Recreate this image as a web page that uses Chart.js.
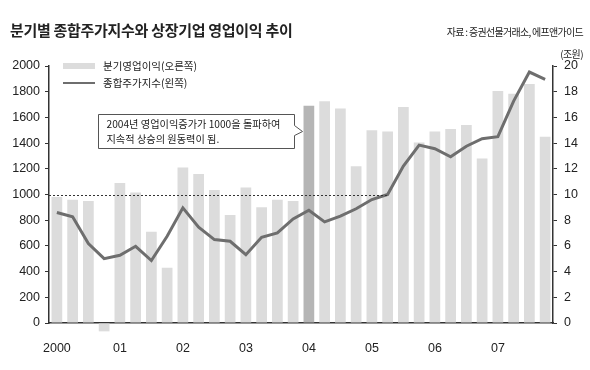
<!DOCTYPE html>
<html>
<head>
<meta charset="utf-8">
<script src="https://cdn.jsdelivr.net/npm/chart.js@4.4.1/dist/chart.umd.min.js"></script>
<style>
  html, body { margin: 0; padding: 0; background: #fff; }
  #wrap { position: relative; width: 590px; height: 370px; font-family: "Noto Sans CJK KR", "Noto Sans", sans-serif; color: #222; }
  #title { position: absolute; left: 10px; top: 19px; font-size: 15px; font-weight: bold; letter-spacing: -0.3px; white-space: nowrap; }
  #source { position: absolute; right: 7px; top: 24px; font-size: 10px; letter-spacing: -0.7px; white-space: nowrap; }
  #unit { position: absolute; right: 7px; top: 46px; font-size: 10px; letter-spacing: -0.6px; }
  canvas { position: absolute; left: 0; top: 0; }
</style>
</head>
<body>
<div id="wrap">
  <canvas id="mainChart" width="590" height="370"></canvas>
  <div id="title">분기별 종합주가지수와 상장기업 영업이익 추이</div>
  <div id="source">자료 : 증권선물거래소, 에프앤가이드</div>
  <div id="unit">(조원)</div>
</div>
<script>
var years = ['2000', '01', '02', '03', '04', '05', '06', '07'];
// 분기영업이익 (조원, 오른쪽 축)
var profit = [9.8, 9.6, 9.5, -0.65, 10.9, 10.15, 7.1, 4.3,
              12.1, 11.6, 10.35, 8.4, 10.55, 9.0, 9.6, 9.5,
              16.9, 17.25, 16.7, 12.2, 15.0, 14.9, 16.8, 14.05,
              14.9, 15.1, 15.4, 12.8, 18.05, 17.85, 18.6, 14.5];
// 종합주가지수 (왼쪽 축)
var kospi = [860, 826, 618, 501, 527, 597, 486, 675,
             896, 745, 649, 636, 532, 667, 701, 810,
             878, 787, 831, 889, 961, 1000, 1221, 1384,
             1356, 1294, 1376, 1434, 1450, 1727, 1953, 1896];
var highlightIndex = 16;   // 2004년 1분기
var refLevel = 1000;
var refEndIndex = 21;
var noteLines = ['2004년 영업이익증가가 1000을 돌파하여', '지속적 상승의 원동력이 됨.'];

var labels = [];
years.forEach(function(y) {
    for (let q = 1; q <= 4; q++) labels.push(y + ' Q' + q);
});
var barColors = profit.map(function(v, i) { return i === highlightIndex ? '#b5b5b5' : '#dcdcdc'; });

var tickFont = { family: '"Liberation Sans", Arial, sans-serif', size: 12.5 };

var extras = {
    id: 'extras',
    afterDatasetsDraw: function(chart) {
        var ctx = chart.ctx, x = chart.scales.x, y = chart.scales.y, area = chart.chartArea;
        // 1000 reference line
        var yy = Math.round(y.getPixelForValue(refLevel)) + 0.5;
        ctx.save();
        ctx.strokeStyle = '#333';
        ctx.lineWidth = 1;
        ctx.setLineDash([2, 2]);
        ctx.beginPath();
        ctx.moveTo(area.left, yy);
        ctx.lineTo(x.getPixelForValue(refEndIndex), yy);
        ctx.stroke();
        ctx.restore();

        // callout box
        var meta = chart.getDatasetMeta(0).data[highlightIndex];
        var tipX = meta.x - meta.width / 2 - 1;
        var tipY = y.getPixelForValue(1490);
        var right = Math.round(tipX - 9) + 0.5, left = right - 196, top = Math.round(tipY - 18) + 0.5, bottom = top + 34;
        ctx.save();
        ctx.fillStyle = '#fff';
        ctx.strokeStyle = '#555';
        ctx.lineWidth = 1;
        ctx.beginPath();
        ctx.moveTo(left, top);
        ctx.lineTo(right, top);
        ctx.lineTo(right, tipY - 6);
        ctx.lineTo(tipX, tipY);
        ctx.lineTo(right, tipY + 4);
        ctx.lineTo(right, bottom);
        ctx.lineTo(left, bottom);
        ctx.closePath();
        ctx.fill();
        ctx.stroke();
        ctx.fillStyle = '#222';
        ctx.font = '10.2px "Noto Sans CJK KR", sans-serif';
        ctx.textBaseline = 'middle';
        ctx.fillText(noteLines[0], left + 8, top + 9.5);
        ctx.fillText(noteLines[1], left + 8, top + 25);
        ctx.restore();

        // legend
        ctx.save();
        ctx.fillStyle = '#dcdcdc';
        ctx.fillRect(area.left + 14, area.top - 3, 32, 6);
        ctx.strokeStyle = '#6e6e6e';
        ctx.lineWidth = 2;
        ctx.beginPath();
        ctx.moveTo(area.left + 14, area.top + 17);
        ctx.lineTo(area.left + 46, area.top + 17);
        ctx.stroke();
        ctx.fillStyle = '#222';
        ctx.font = '10.5px "Noto Sans CJK KR", sans-serif';
        ctx.textBaseline = 'middle';
        ctx.fillText(chart.data.datasets[0].label, area.left + 54, area.top);
        ctx.fillText(chart.data.datasets[1].label, area.left + 54, area.top + 17);
        ctx.restore();
    }
};

var ctxMain = document.getElementById('mainChart').getContext('2d');
var mainChart = new Chart(ctxMain, {
    type: 'bar',
    data: {
        labels: labels,
        datasets: [{
            type: 'bar',
            label: '분기영업이익(오른쪽)',
            data: profit,
            yAxisID: 'y1',
            backgroundColor: barColors,
            borderWidth: 0,
            barPercentage: 0.68,
            categoryPercentage: 1,
            clip: false,
            order: 2
        }, {
            type: 'line',
            label: '종합주가지수(왼쪽)',
            data: kospi,
            yAxisID: 'y',
            borderColor: '#6e6e6e',
            borderWidth: 3,
            pointRadius: 0,
            tension: 0,
            order: 1
        }]
    },
    options: {
        responsive: false,
        animation: false,
        layout: { padding: { top: 66, left: 0, right: 0, bottom: 0 } },
        plugins: { legend: { display: false }, tooltip: { enabled: false } },
        scales: {
            x: {
                offset: true,
                grid: { display: false },
                border: { color: '#333', width: 1.5 },
                afterFit: function(s) { s.height = 47; },
                ticks: {
                    autoSkip: false,
                    maxRotation: 0,
                    color: '#222',
                    font: tickFont,
                    padding: 10,
                    callback: function(v, i) { return i % 4 === 0 ? years[i / 4] : ''; }
                }
            },
            y: {
                position: 'left',
                min: 0, max: 2000,
                afterFit: function(s) { s.width = 49; },
                grid: { drawOnChartArea: false, drawTicks: true, tickLength: 4, color: '#333' },
                border: { color: '#333', width: 1.5 },
                ticks: { stepSize: 200, color: '#222', font: tickFont, padding: 5,
                         callback: function(v) { return String(v); } }
            },
            y1: {
                position: 'right',
                min: 0, max: 20,
                afterFit: function(s) { s.width = 37; },
                grid: { drawOnChartArea: false, drawTicks: true, tickLength: 4, color: '#333' },
                border: { color: '#333', width: 1.5 },
                ticks: { stepSize: 2, color: '#222', font: tickFont, padding: 7 }
            }
        }
    },
    plugins: [extras]
});
</script>
</body>
</html>
